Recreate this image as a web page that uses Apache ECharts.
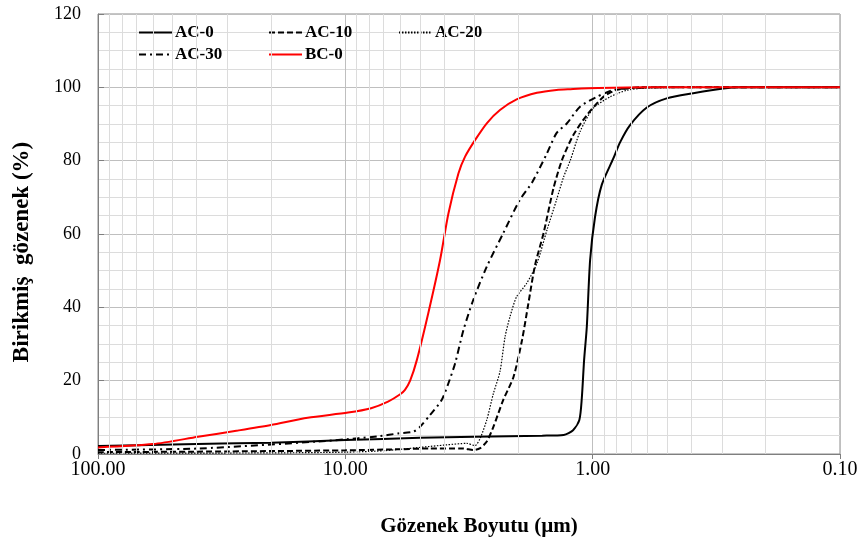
<!DOCTYPE html>
<html>
<head>
<meta charset="utf-8">
<script src="https://cdn.jsdelivr.net/npm/echarts@6/dist/echarts.min.js"></script>
<style>
  html, body { margin: 0; padding: 0; background: #fff; }
  #chart { width: 862px; height: 542px; }
</style>
</head>
<body>
<div id="chart"></div>
<script>
// ---- data (pore size in µm, cumulative %) ----
var ac0Size = [100, 50, 20, 10, 5, 3, 1.6, 1.31, 1.2, 1.132, 1.107, 1.083, 1.056, 1.024, 0.978, 0.919, 0.825, 0.775, 0.706, 0.604, 0.502, 0.392, 0.296, 0.25, 0.1];
var ac0Pct  = [2.2, 2.6, 3.1, 3.8, 4.4, 4.7, 5.0, 5.2, 6.5, 9.3, 15.0, 25.6, 34.7, 52.9, 64.7, 73.4, 80.6, 85.0, 89.7, 94.5, 97.0, 98.4, 99.7, 100, 100];

var ac10Size = [100, 30, 10, 6, 4.55, 3.33, 3.04, 2.85, 2.68, 2.52, 2.30, 2.09, 1.93, 1.82, 1.71, 1.58, 1.44, 1.33, 1.197, 1.056, 0.905, 0.799, 0.643, 0.1];
var ac10Pct  = [0.5, 0.7, 1.0, 1.3, 1.5, 1.5, 1.1, 1.6, 3.4, 7.4, 14.7, 21.0, 31.1, 41.0, 51.5, 60.2, 72.5, 80.2, 87.0, 92.4, 97.4, 99.3, 100, 100];

var ac20Size = [100, 20, 10, 7, 3.89, 3.23, 2.99, 2.85, 2.68, 2.52, 2.37, 2.26, 2.16, 2.03, 1.85, 1.68, 1.53, 1.40, 1.31, 1.23, 1.125, 0.994, 0.85, 0.728, 0.614, 0.368, 0.1];
var ac20Pct  = [0.2, 0.3, 0.5, 0.9, 2.5, 2.9, 2.3, 4.3, 9.3, 16.5, 22.5, 32.0, 37.4, 42.9, 46.5, 52.0, 61.1, 69.3, 75.6, 80.2, 87.9, 94.3, 97.4, 99.2, 99.8, 100, 100];

var ac30Size = [100, 39.4, 12.9, 8.88, 7.24, 6.12, 5.31, 4.99, 4.55, 4.08, 3.83, 3.60, 3.33, 3.04, 2.68, 2.30, 1.97, 1.76, 1.53, 1.40, 1.27, 1.125, 0.963, 0.825, 0.728, 0.534, 0.1];
var ac30Pct  = [1.1, 1.5, 3.4, 4.3, 4.9, 5.6, 6.1, 7.4, 10.6, 14.7, 19.3, 24.7, 33.8, 42.0, 51.1, 60.2, 69.3, 74.0, 82.0, 87.5, 90.2, 94.7, 97.4, 99.3, 99.7, 100, 100];

var bc0Size = [100, 59.9, 39.4, 27.2, 20.0, 14.2, 9.75, 7.87, 6.72, 6.0, 5.74, 5.47, 5.14, 4.62, 4.14, 3.83, 3.49, 3.28, 2.99, 2.68, 2.37, 2.03, 1.68, 1.40, 1.23, 0.95, 0.586, 0.1];
var bc0Pct  = [1.8, 2.7, 4.7, 6.4, 7.9, 9.9, 11.3, 12.5, 14.3, 16.3, 17.5, 20.0, 25.6, 38.4, 52.9, 65.6, 76.5, 81.1, 85.6, 90.2, 93.8, 96.7, 98.5, 99.3, 99.5, 99.8, 100, 100];

var seriesNames = ['AC-0', 'AC-10', 'AC-20', 'AC-30', 'BC-0'];
var xTickMin = 0.1, xTickMax = 100;
var yTickMin = 0, yTickMax = 120, yTickStep = 20;
var minorXGrid = [0.2, 0.3, 0.4, 0.5, 0.6, 0.7, 0.8, 0.9, 2, 3, 4, 5, 6, 7, 8, 9, 20, 30, 40, 50, 60, 70, 80, 90];

function pairs(xs, ys) {
  return xs.map(function (x, i) { return [x, ys[i]]; });
}

var FONT = '"Liberation Serif", "Times New Roman", serif';

function legendAt(name, left, top) {
  return {
    data: [name], left: left, top: top,
    itemWidth: 33, itemHeight: 14, itemGap: 0,
    itemStyle: { opacity: 0 },
    textStyle: { fontFamily: FONT, fontWeight: 'bold', fontSize: 17, color: '#000', padding: [0, 0, 0, -2] },
    selectedMode: false, padding: 0
  };
}

var chart = echarts.init(document.getElementById('chart'), null, { renderer: 'canvas' });

var baseLine = { symbol: 'none', smooth: 0.25, z: 3 };

var option = {
  backgroundColor: '#fff',
  animation: false,
  grid: { left: 98, right: 22, top: 14, bottom: 88, show: true, borderColor: '#8c8c8c', borderWidth: 1 },
  legend: [
    legendAt('AC-0', 138, 24),
    legendAt('AC-10', 268, 24),
    legendAt('AC-20', 398, 24),
    legendAt('AC-30', 138, 46),
    legendAt('BC-0', 268, 46)
  ],
  xAxis: {
    type: 'log', logBase: 10, min: xTickMin, max: xTickMax, inverse: true,
    name: 'Gözenek Boyutu (µm)', nameLocation: 'middle', nameGap: 62,
    nameTextStyle: { fontFamily: FONT, fontWeight: 'bold', fontSize: 21, color: '#000', padding: [0, 0, 0, 20] },
    axisLine: { show: true, lineStyle: { color: '#7f7f7f', width: 1 } },
    axisTick: { show: true, length: 5, lineStyle: { color: '#7f7f7f' } },
    axisLabel: { fontFamily: FONT, fontSize: 20, color: '#000', margin: 6,
      formatter: function (v) { return Number(v).toFixed(2); } },
    splitLine: { show: true, lineStyle: { color: '#bfbfbf', width: 1 } }
  },
  yAxis: {
    type: 'value', min: yTickMin, max: yTickMax, interval: yTickStep,
    name: 'Birikmiş  gözenek (%)', nameLocation: 'middle', nameGap: 64,
    nameTextStyle: { fontFamily: FONT, fontWeight: 'bold', fontSize: 23, color: '#000', padding: [0, 36, 0, 0] },
    axisLine: { show: true, lineStyle: { color: '#7f7f7f', width: 1 } },
    axisTick: { show: true, inside: true, length: 6, lineStyle: { color: '#7f7f7f' } },
    axisLabel: { fontFamily: FONT, fontSize: 18, color: '#000', margin: 17 },
    splitLine: { show: true, lineStyle: { color: '#bfbfbf', width: 1 } },
    minorTick: { show: false, splitNumber: 4 },
    minorSplitLine: { show: true, lineStyle: { color: '#dcdcdc', width: 1 } }
  },
  series: [
    {
      name: '_grid', type: 'line', data: [], symbol: 'none', silent: true, z: 1,
      markLine: {
        silent: true, symbol: ['none', 'none'], animation: false,
        label: { show: false },
        lineStyle: { color: '#dcdcdc', type: 'solid', width: 1 },
        data: minorXGrid.map(function (v) { return { xAxis: v }; })
      }
    },
    Object.assign({}, baseLine, { name: seriesNames[0], type: 'line', data: pairs(ac0Size, ac0Pct),
      lineStyle: { color: '#000', width: 2, type: 'solid' }, itemStyle: { color: '#000' } }),
    Object.assign({}, baseLine, { name: seriesNames[1], type: 'line', data: pairs(ac10Size, ac10Pct),
      lineStyle: { color: '#000', width: 2, type: [6, 3] }, itemStyle: { color: '#000' } }),
    Object.assign({}, baseLine, { name: seriesNames[2], type: 'line', data: pairs(ac20Size, ac20Pct),
      lineStyle: { color: '#000', width: 1.2, type: [1.5, 1.5] }, itemStyle: { color: '#000' } }),
    Object.assign({}, baseLine, { name: seriesNames[3], type: 'line', data: pairs(ac30Size, ac30Pct),
      lineStyle: { color: '#000', width: 2, type: [7, 4, 2, 4] }, itemStyle: { color: '#000' } }),
    Object.assign({}, baseLine, { name: seriesNames[4], type: 'line', data: pairs(bc0Size, bc0Pct),
      lineStyle: { color: '#ff0000', width: 2, type: 'solid' }, itemStyle: { color: '#ff0000' } })
  ]
};

chart.setOption(option);
</script>
</body>
</html>
